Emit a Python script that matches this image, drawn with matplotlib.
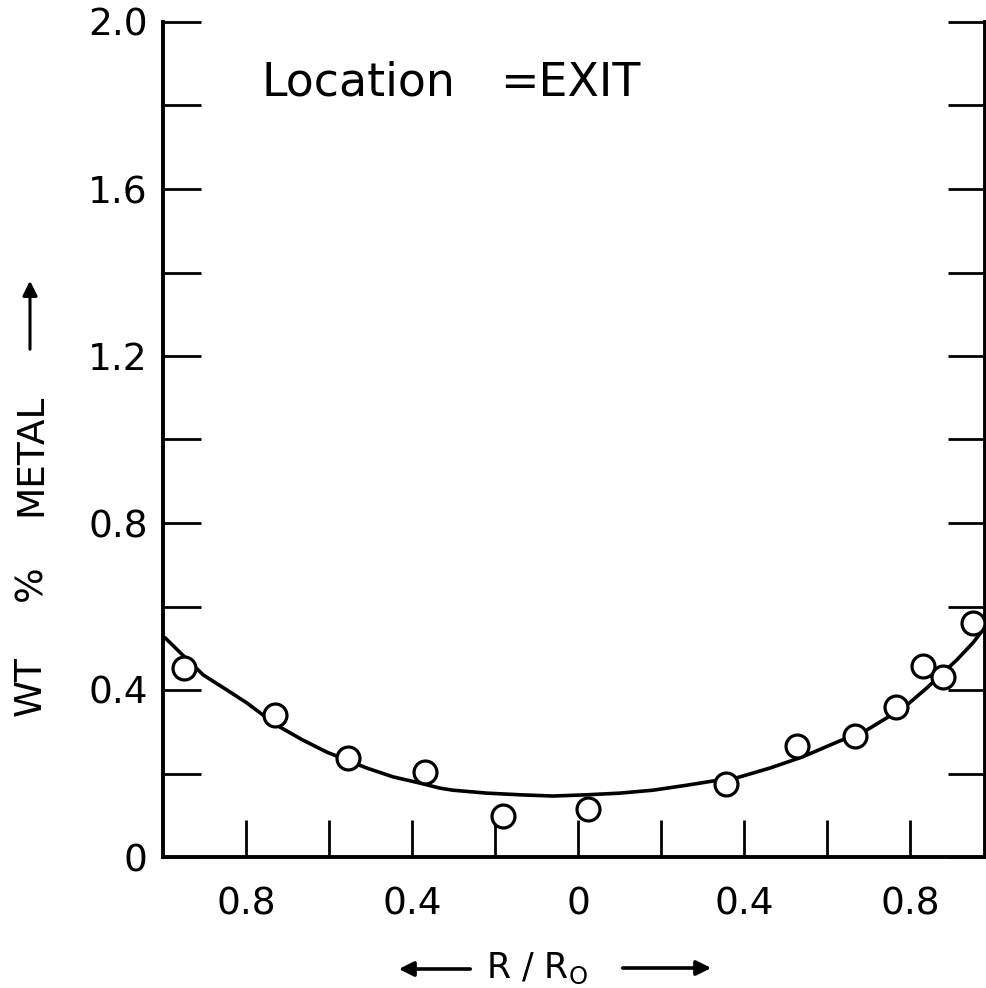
import matplotlib
matplotlib.use("Agg")
import matplotlib.pyplot as plt
from matplotlib.patches import FancyArrowPatch

# Measured metal concentration at the exit, across the radius
r_points = [-0.949, -0.731, -0.554, -0.368, -0.180, 0.024, 0.356, 0.527,
            0.666, 0.765, 0.830, 0.880, 0.951]
wt_points = [0.453, 0.339, 0.237, 0.204, 0.099, 0.115, 0.175, 0.266,
             0.290, 0.359, 0.457, 0.431, 0.560]

# Smoothed profile through the measurements
r_curve = [-0.995, -0.958, -0.903, -0.846, -0.798, -0.759, -0.718, -0.663,
           -0.605, -0.557, -0.509, -0.446, -0.381, -0.333, -0.302, -0.220,
           -0.140, -0.061, 0.021, 0.101, 0.180, 0.262, 0.325, 0.383, 0.462,
           0.541, 0.623, 0.695, 0.743, 0.792, 0.840, 0.871, 0.912, 0.951,
           0.975]
wt_curve = [0.525, 0.489, 0.436, 0.400, 0.369, 0.340, 0.311, 0.280,
            0.251, 0.232, 0.213, 0.192, 0.177, 0.165, 0.160, 0.153,
            0.149, 0.146, 0.149, 0.153, 0.160, 0.172, 0.182, 0.190, 0.213,
            0.240, 0.275, 0.304, 0.333, 0.364, 0.405, 0.434, 0.472, 0.513,
            0.544]

x_ticks = [-0.8, -0.6, -0.4, -0.2, 0.0, 0.2, 0.4, 0.6, 0.8]
x_tick_labels = ["0.8", "", "0.4", "", "0", "", "0.4", "", "0.8"]
y_ticks = [0.0, 0.2, 0.4, 0.6, 0.8, 1.0, 1.2, 1.4, 1.6, 1.8, 2.0]
y_tick_labels = ["0", "", "0.4", "", "0.8", "", "1.2", "", "1.6", "", "2.0"]

plt.rcParams["font.family"] = ["DejaVu Sans"]
W, H = 986, 988
fig = plt.figure(figsize=(W / 100, H / 100), dpi=100)
ax = fig.add_axes([163 / W, 131 / H, (985 - 163) / W, (966 - 131) / H])

ax.plot(r_curve, wt_curve, color="black", lw=2.6, solid_capstyle="round",
        solid_joinstyle="round", zorder=2)
ax.plot(r_points, wt_points, linestyle="none", marker="o", markersize=16.5,
        markerfacecolor="white", markeredgecolor="black",
        markeredgewidth=2.3, zorder=3, clip_on=False)

ax.set_xlim(-1.0, 0.98)
ax.set_ylim(0.0, 2.0)

ax.spines["top"].set_visible(False)
for side in ("left", "right", "bottom"):
    ax.spines[side].set_linewidth(2.8)
    ax.spines[side].set_color("black")

ax.set_xticks(x_ticks)
ax.set_xticklabels(x_tick_labels)
ax.set_yticks(y_ticks)
ax.set_yticklabels(y_tick_labels)
ax.tick_params(axis="x", direction="in", length=27, width=2.0, pad=21,
               labelsize=27, top=False)
ax.tick_params(axis="y", direction="in", length=27, width=2.0, pad=11,
               labelsize=27, left=True, right=True)

# Panel annotation
fig.text(262 / W, (H - 96) / H, "Location", fontsize=33, ha="left",
         va="baseline")
fig.text(500 / W, (H - 96) / H, "=EXIT", fontsize=33, ha="left",
         va="baseline")

# Vertical axis title, words spread along the axis, with an upward arrow
for word, yc in (("WT", 686), ("%", 583), ("METAL", 455)):
    fig.text(31 / W, (H - yc) / H, word, rotation=90, fontsize=27,
             ha="center", va="center")
fig.add_artist(FancyArrowPatch(
    (30 / W, (H - 352) / H), (30 / W, (H - 278) / H),
    transform=fig.transFigure, arrowstyle="-|>", mutation_scale=22,
    lw=2.2, color="black"))

# Horizontal axis title with arrows pointing outwards
fig.text(537 / W, (H - 978) / H, r"R / R$_{\mathrm{O}}$", fontsize=25,
         ha="center", va="baseline")
fig.add_artist(FancyArrowPatch(
    (473 / W, (H - 969) / H), (396 / W, (H - 969) / H),
    transform=fig.transFigure, arrowstyle="-|>", mutation_scale=22,
    lw=2.6, color="black"))
fig.add_artist(FancyArrowPatch(
    (620 / W, (H - 968) / H), (714 / W, (H - 968) / H),
    transform=fig.transFigure, arrowstyle="-|>", mutation_scale=22,
    lw=2.6, color="black"))

fig.savefig("out.png", dpi=100, facecolor="white")
